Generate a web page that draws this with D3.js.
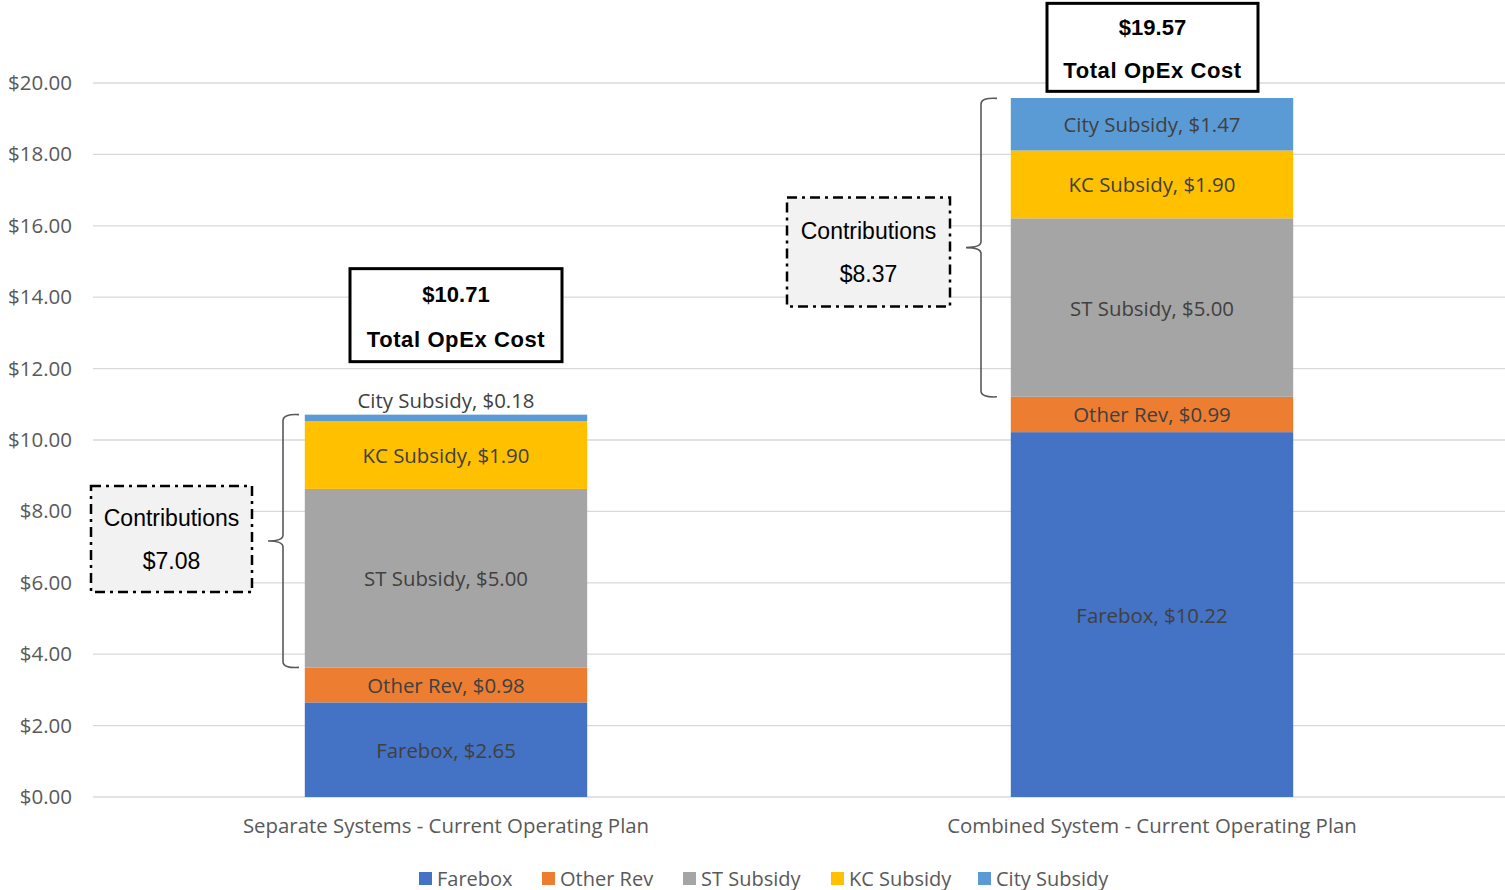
<!DOCTYPE html>
<html>
<head>
<meta charset="utf-8">
<script src="https://cdn.jsdelivr.net/npm/d3@7"></script>
<style>
  body { margin: 0; background: #fff; }
  svg { font-family: "Open Sans", "Noto Sans", sans-serif; }
</style>
</head>
<body>
<svg></svg>
<script>
// data
var plans = ["Separate Systems - Current Operating Plan", "Combined System - Current Operating Plan"];
var seriesNames = ["Farebox", "Other Rev", "ST Subsidy", "KC Subsidy", "City Subsidy"];
var farebox = [2.65, 10.22];
var otherRev = [0.98, 0.99];
var stSubsidy = [5.00, 5.00];
var kcSubsidy = [1.90, 1.90];
var citySubsidy = [0.18, 1.47];
var totals = [10.71, 19.57];
var yTicks = [0, 2, 4, 6, 8, 10, 12, 14, 16, 18, 20];
var colors = ["#4472c4", "#ed7d31", "#a5a5a5", "#ffc000", "#5b9bd5"];

var screen = {width: 1505, height: 890};
var margins = {top: 83, right: 0, bottom: 93, left: 93};
var labelFont = "Open Sans, Noto Sans, sans-serif";
var boxFont = "Liberation Sans, Arial, sans-serif";

var svg = d3.select("svg")
    .attr("width", screen.width)
    .attr("height", screen.height);

var width = screen.width - margins.left - margins.right;
var height = screen.height - margins.top - margins.bottom;

var xScale = d3.scaleBand().domain(plans).range([margins.left, margins.left + width])
    .paddingInner(0.6).paddingOuter(0.3);
var yScale = d3.scaleLinear().domain([0, 20]).range([margins.top + height, margins.top]);

var table = plans.map(function(p, i) {
    return {plan: p, "Farebox": farebox[i], "Other Rev": otherRev[i], "ST Subsidy": stSubsidy[i],
            "KC Subsidy": kcSubsidy[i], "City Subsidy": citySubsidy[i]};
});
var stacked = d3.stack().keys(seriesNames)(table);

// gridlines
svg.append("g")
    .selectAll("line")
    .data(yTicks)
    .enter()
    .append("line")
    .attr("x1", margins.left)
    .attr("x2", margins.left + width)
    .attr("y1", function(d) { return yScale(d); })
    .attr("y2", function(d) { return yScale(d); })
    .attr("stroke", "#d9d9d9")
    .attr("stroke-width", 1.3);

// y axis labels
var yAxis = d3.axisLeft(yScale).tickValues(yTicks).tickSize(0).tickPadding(21)
    .tickFormat(function(d) { return "$" + d3.format(".2f")(d); });
svg.append("g")
    .attr("transform", "translate(" + margins.left + ",0)")
    .call(yAxis)
    .call(function(g) { g.select(".domain").remove(); })
    .selectAll("text")
    .style("font-size", "20.5px")
    .style("font-family", labelFont)
    .attr("fill", "#595959");

// x axis labels
var xAxis = d3.axisBottom(xScale).tickSize(0).tickPadding(22);
svg.append("g")
    .attr("transform", "translate(0," + (margins.top + height) + ")")
    .call(xAxis)
    .call(function(g) { g.select(".domain").remove(); })
    .selectAll("text")
    .style("font-size", "20.4px")
    .style("font-family", labelFont)
    .attr("fill", "#595959");

// bars
var layers = svg.append("g")
    .selectAll("g")
    .data(stacked)
    .enter()
    .append("g")
    .attr("fill", function(d, i) { return colors[i]; });

layers.selectAll("rect")
    .data(function(d) { return d; })
    .enter()
    .append("rect")
    .attr("x", function(d) { return xScale(d.data.plan); })
    .attr("width", xScale.bandwidth())
    .attr("y", function(d) { return yScale(d[1]); })
    .attr("height", function(d) { return yScale(d[0]) - yScale(d[1]); });

// segment labels
stacked.forEach(function(layer) {
    svg.append("g")
        .selectAll("text")
        .data(layer)
        .enter()
        .append("text")
        .attr("x", function(d) { return xScale(d.data.plan) + xScale.bandwidth() / 2; })
        .attr("y", function(d) {
            var h = yScale(d[0]) - yScale(d[1]);
            if (h < 25) return yScale(d[1]) - 15;
            return (yScale(d[0]) + yScale(d[1])) / 2;
        })
        .attr("text-anchor", "middle")
        .attr("dominant-baseline", "central")
        .style("font-size", "20.4px")
        .style("font-family", labelFont)
        .attr("fill", "#404040")
        .text(function(d) { return layer.key + ", $" + d3.format(".2f")(d[1] - d[0]); });
});

// total boxes and contribution braces
var notes = [
    {cx: 456, boxW: 212, boxH: 93, gap: 53,
     braceX: 283, tipX: 299, midX: 268, cBoxL: 91, cBoxW: 161, cBoxH: 106, cShift: -2},
    {cx: 1152.5, boxW: 211, boxH: 88, gap: 7,
     braceX: 981, tipX: 997, midX: 966, cBoxL: 787, cBoxW: 163, cBoxH: 109, cShift: 4.5}
];

notes.forEach(function(n, i) {
    var top = yScale(totals[i]);
    var bottom = yScale(farebox[i] + otherRev[i]);
    var contrib = stSubsidy[i] + kcSubsidy[i] + citySubsidy[i];

    var boxBottom = top - n.gap;
    var g = svg.append("g");
    g.append("rect")
        .attr("x", n.cx - n.boxW / 2)
        .attr("y", boxBottom - n.boxH)
        .attr("width", n.boxW)
        .attr("height", n.boxH)
        .attr("fill", "#fff")
        .attr("stroke", "#000")
        .attr("stroke-width", 3);
    g.append("text")
        .attr("x", n.cx)
        .attr("y", boxBottom - n.boxH * 0.72)
        .attr("text-anchor", "middle")
        .attr("dominant-baseline", "central")
        .style("font-family", boxFont)
        .style("font-weight", "bold")
        .style("font-size", "22px")
        .attr("fill", "#000")
        .text("$" + d3.format(".2f")(totals[i]));
    g.append("text")
        .attr("x", n.cx)
        .attr("y", boxBottom - n.boxH * 0.24)
        .attr("text-anchor", "middle")
        .attr("dominant-baseline", "central")
        .style("font-family", boxFont)
        .style("font-weight", "bold")
        .style("font-size", "22px")
        .style("letter-spacing", "0.6px")
        .attr("fill", "#000")
        .text("Total OpEx Cost");

    // brace
    var mid = (top + bottom) / 2;
    var r = 6;
    var path = d3.path();
    path.moveTo(n.tipX, top);
    path.quadraticCurveTo(n.braceX, top - 1, n.braceX, top + r);
    path.lineTo(n.braceX, mid - r);
    path.quadraticCurveTo(n.braceX, mid, n.midX, mid);
    path.quadraticCurveTo(n.braceX, mid, n.braceX, mid + r);
    path.lineTo(n.braceX, bottom - r);
    path.quadraticCurveTo(n.braceX, bottom + 1, n.tipX, bottom);
    svg.append("path")
        .attr("d", path.toString())
        .attr("fill", "none")
        .attr("stroke", "#595959")
        .attr("stroke-width", 1.6);

    // contributions box
    var cy = mid + n.cShift;
    var cg = svg.append("g");
    cg.append("rect")
        .attr("x", n.cBoxL)
        .attr("y", cy - n.cBoxH / 2)
        .attr("width", n.cBoxW)
        .attr("height", n.cBoxH)
        .attr("fill", "#f2f2f2")
        .attr("stroke", "#000")
        .attr("stroke-width", 2.5)
        .attr("stroke-dasharray", "10,5,3,5");
    cg.append("text")
        .attr("x", n.cBoxL + n.cBoxW / 2)
        .attr("y", cy - 21)
        .attr("text-anchor", "middle")
        .attr("dominant-baseline", "central")
        .style("font-family", boxFont)
        .style("font-size", "23px")
        .attr("fill", "#000")
        .text("Contributions");
    cg.append("text")
        .attr("x", n.cBoxL + n.cBoxW / 2)
        .attr("y", cy + 22)
        .attr("text-anchor", "middle")
        .attr("dominant-baseline", "central")
        .style("font-family", boxFont)
        .style("font-size", "23px")
        .attr("fill", "#000")
        .text("$" + d3.format(".2f")(contrib));
});

// legend
var legendX = [419, 542, 683, 831, 978];
var legend = svg.append("g")
    .selectAll("g")
    .data(seriesNames)
    .enter()
    .append("g")
    .attr("transform", function(d, i) { return "translate(" + legendX[i] + ",878)"; });
legend.append("rect")
    .attr("x", 0)
    .attr("y", -6)
    .attr("width", 13)
    .attr("height", 13)
    .attr("fill", function(d, i) { return colors[i]; });
legend.append("text")
    .attr("x", 18)
    .attr("y", 0)
    .attr("dominant-baseline", "central")
    .style("font-size", "20px")
    .style("font-family", labelFont)
    .attr("fill", "#595959")
    .text(function(d) { return d; });
</script>
</body>
</html>
